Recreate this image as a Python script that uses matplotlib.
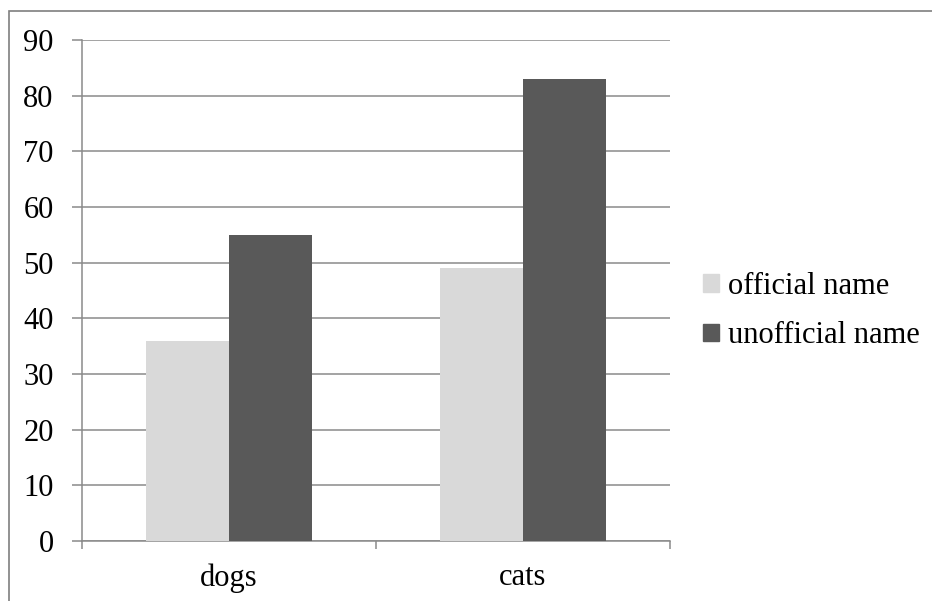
import matplotlib
matplotlib.use('Agg')
import matplotlib.pyplot as plt
from matplotlib.patches import Rectangle, Patch
import numpy as np

categories = ["dogs", "cats"]
official = [36, 49]
unofficial = [55, 83]
series_names = ["official name", "unofficial name"]
y_ticks = [0, 10, 20, 30, 40, 50, 60, 70, 80, 90]

LIGHT = "#d9d9d9"
DARK = "#595959"
GRID = "#8a8a8a"

plt.rcParams['font.family'] = ['Liberation Serif', 'DejaVu Serif']

fig = plt.figure(figsize=(9.32, 6.01), dpi=100)

# chart frame, cut by the right and bottom edges
fig.patches.append(Rectangle((9 / 932, -0.1), 1.2, 1 - 11 / 601 + 0.1,
                             transform=fig.transFigure, fill=False,
                             edgecolor="#7f7f7f", linewidth=1.2))

ax = fig.add_axes([82 / 932, 1 - 541 / 601, 588 / 932, 501 / 601])

x = np.arange(len(categories))
w = 0.284
ax.bar(x - w / 2, official, w, color=LIGHT, zorder=3, label=series_names[0])
ax.bar(x + w / 2, unofficial, w, color=DARK, zorder=3, label=series_names[1])

ax.set_xlim(-0.5, len(categories) - 0.5)
ax.set_ylim(0, 90)
ax.set_yticks(y_ticks)
ax.set_yticklabels([str(t) for t in y_ticks], fontsize=22)
ax.yaxis.grid(True, color=GRID, linewidth=1.1, zorder=0)
ax.tick_params(axis='y', length=7.5, width=1.1, color=GRID, pad=13)

ax.set_xticks(x)
ax.set_xticklabels(categories, fontsize=22)
ax.set_xticks(np.arange(len(categories) + 1) - 0.5, minor=True)
ax.tick_params(axis='x', which='major', length=0, pad=16)
ax.tick_params(axis='x', which='minor', length=5.5, width=1.1, color=GRID)

for side in ['top', 'right']:
    ax.spines[side].set_visible(False)
for side in ['left', 'bottom']:
    ax.spines[side].set_color(GRID)
    ax.spines[side].set_linewidth(1.1)

handles = [Patch(color=LIGHT), Patch(color=DARK)]
fig.legend(handles, series_names, loc='center left',
           bbox_to_anchor=(691 / 932, 1 - 311 / 601), frameon=False,
           fontsize=22, handlelength=0.52, handleheight=0.52,
           handletextpad=0.28, labelspacing=0.68, borderaxespad=0)

fig.savefig("out.png", dpi=100)
